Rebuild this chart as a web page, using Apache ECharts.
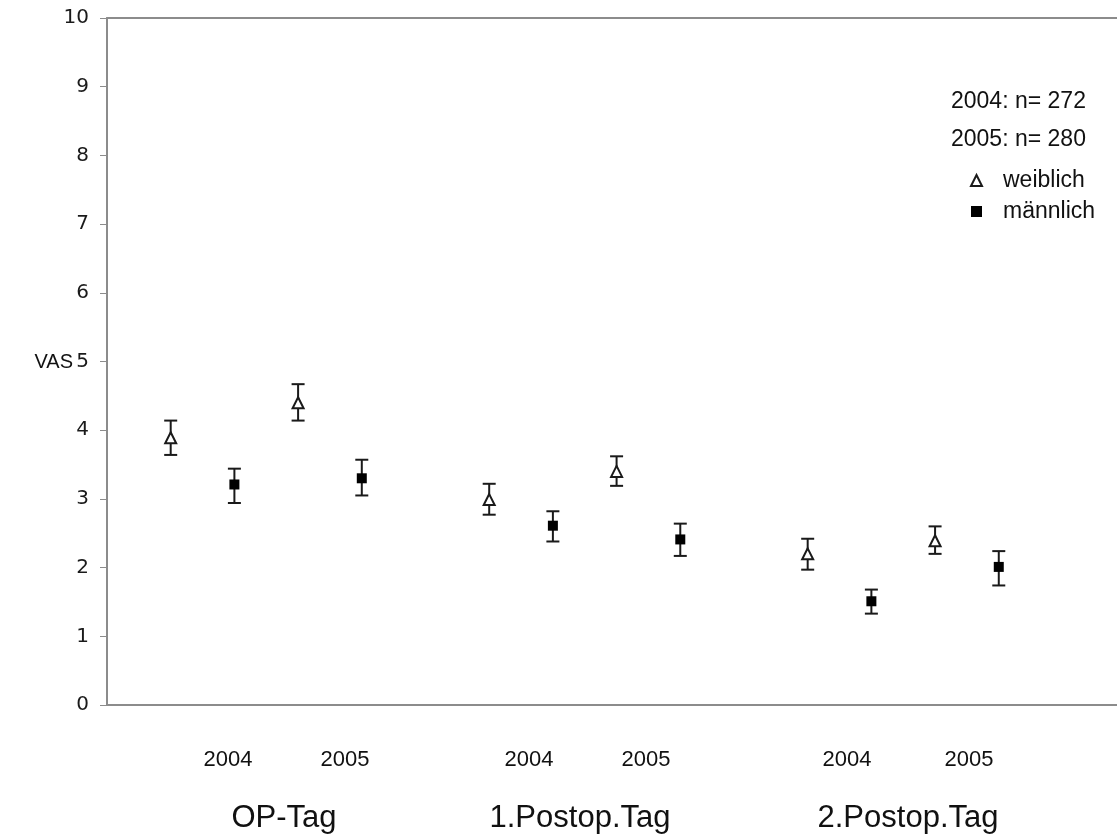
<!DOCTYPE html>
<html>
<head>
<meta charset="utf-8">
<script src="https://cdn.jsdelivr.net/npm/echarts@6/dist/echarts.min.js"></script>
<style>html,body{margin:0;padding:0;background:#fff}#c{width:1117px;height:837px}</style>
</head>
<body>
<div id="c"></div>
<script>
// slot index of each measurement on the x axis (gaps separate the days)
var slotsW = [1, 3, 6, 8, 11, 13];
var slotsM = [2, 4, 7, 9, 12, 14];
var yearLabels = ['2004', '2005', '2004', '2005', '2004', '2005'];
var dayLabels = ['OP-Tag', '1.Postop.Tag', '2.Postop.Tag'];
var yTicks = [0, 1, 2, 3, 4, 5, 6, 7, 8, 9, 10];
// weiblich (triangle)
var wMean = [3.89, 4.40, 2.99, 3.40, 2.20, 2.39];
var wHigh = [4.14, 4.67, 3.22, 3.62, 2.42, 2.60];
var wLow  = [3.64, 4.14, 2.77, 3.19, 1.97, 2.20];
// männlich (square)
var mMean = [3.21, 3.30, 2.61, 2.41, 1.51, 2.01];
var mHigh = [3.44, 3.57, 2.82, 2.64, 1.68, 2.24];
var mLow  = [2.94, 3.05, 2.38, 2.17, 1.33, 1.74];
var nText = ['2004: n= 272', '2005: n= 280'];

var chart = echarts.init(document.getElementById('c'));
var axisGray = '#8c8c8c';
var ink = '#111';

function pts(slots, vals) { return slots.map(function (s, i) { return [s, vals[i]]; }); }
function bars(slots, lo, hi) { return slots.map(function (s, i) { return [s, lo[i], hi[i]]; }); }

function errRender(params, api) {
  var x = api.value(0);
  var p1 = api.coord([x, api.value(1)]);
  var p2 = api.coord([x, api.value(2)]);
  var hw = 6.5;
  var st = { stroke: '#1a1a1a', lineWidth: 2 };
  return {
    type: 'group',
    children: [
      { type: 'line', shape: { x1: p1[0], y1: p1[1], x2: p2[0], y2: p2[1] }, style: st },
      { type: 'line', shape: { x1: p1[0] - hw, y1: p1[1], x2: p1[0] + hw, y2: p1[1] }, style: st },
      { type: 'line', shape: { x1: p2[0] - hw, y1: p2[1], x2: p2[0] + hw, y2: p2[1] }, style: st }
    ]
  };
}

var yearPx = [228, 345, 529, 646, 847, 969];
var dayPx = [284, 580, 908];
var graphics = [];
yearLabels.forEach(function (t, i) {
  graphics.push({ type: 'text', x: yearPx[i], y: 760, style: { text: t, font: '22px "Liberation Sans", Arial, sans-serif', fill: ink, align: 'center', verticalAlign: 'middle' } });
});
dayLabels.forEach(function (t, i) {
  graphics.push({ type: 'text', x: dayPx[i], y: 818, style: { text: t, font: '31px "Liberation Sans", Arial, sans-serif', fill: ink, align: 'center', verticalAlign: 'middle' } });
});
graphics.push({ type: 'text', x: 951, y: 102, style: { text: nText[0], font: '23px "Liberation Sans", Arial, sans-serif', fill: ink, align: 'left', verticalAlign: 'middle' } });
graphics.push({ type: 'text', x: 951, y: 140, style: { text: nText[1], font: '23px "Liberation Sans", Arial, sans-serif', fill: ink, align: 'left', verticalAlign: 'middle' } });
graphics.push({ type: 'text', x: 73, y: 362, style: { text: 'VAS', font: '20px "Liberation Sans", Arial, sans-serif', fill: ink, align: 'right', verticalAlign: 'middle' } });

var xMax = 15.856;
chart.setOption({
  animation: false,
  backgroundColor: '#fff',
  grid: { left: 107, right: 0, top: 18, bottom: 132, show: false },
  xAxis: [{
    type: 'value', min: 0, max: xMax, position: 'bottom',
    axisLine: { show: true, onZero: false, lineStyle: { color: axisGray, width: 2 } },
    axisTick: { show: false }, axisLabel: { show: false }, splitLine: { show: false }
  }, {
    type: 'value', min: 0, max: xMax, position: 'top',
    axisLine: { show: true, onZero: false, lineStyle: { color: axisGray, width: 2 } },
    axisTick: { show: false }, axisLabel: { show: false }, splitLine: { show: false }
  }],
  yAxis: {
    type: 'value', min: yTicks[0], max: yTicks[yTicks.length - 1], interval: 1,
    axisLine: { show: true, lineStyle: { color: axisGray, width: 2 } },
    axisTick: { show: true, length: 7, lineStyle: { color: axisGray, width: 1 } },
    axisLabel: { margin: 18, fontFamily: 'DejaVu Sans', fontSize: 20, color: '#1a1a1a' },
    splitLine: { show: false }
  },
  legend: {
    orient: 'vertical', left: 965, top: 164, itemWidth: 11, itemHeight: 11, itemGap: 8,
    selectedMode: false,
    textStyle: { fontFamily: 'Liberation Sans', fontSize: 23, color: ink, padding: [0, 0, 0, 16] },
    data: [
      { name: 'weiblich', icon: 'triangle', itemStyle: { color: '#fff', borderColor: '#1a1a1a', borderWidth: 2 } },
      { name: 'männlich', icon: 'rect', itemStyle: { color: '#000', borderWidth: 0 } }
    ]
  },
  graphic: graphics,
  series: [
    { type: 'custom', name: 'errW', renderItem: errRender, data: bars(slotsW, wLow, wHigh), z: 2, silent: true },
    { type: 'custom', name: 'errM', renderItem: errRender, data: bars(slotsM, mLow, mHigh), z: 2, silent: true },
    { type: 'scatter', name: 'weiblich', symbol: 'triangle', symbolSize: [11, 11], data: pts(slotsW, wMean), z: 3,
      itemStyle: { color: '#fff', borderColor: '#1a1a1a', borderWidth: 2, opacity: 1 } },
    { type: 'scatter', name: 'männlich', symbol: 'rect', symbolSize: [10, 10], data: pts(slotsM, mMean), z: 3,
      itemStyle: { color: '#000', opacity: 1 } }
  ]
});
</script>
</body>
</html>
